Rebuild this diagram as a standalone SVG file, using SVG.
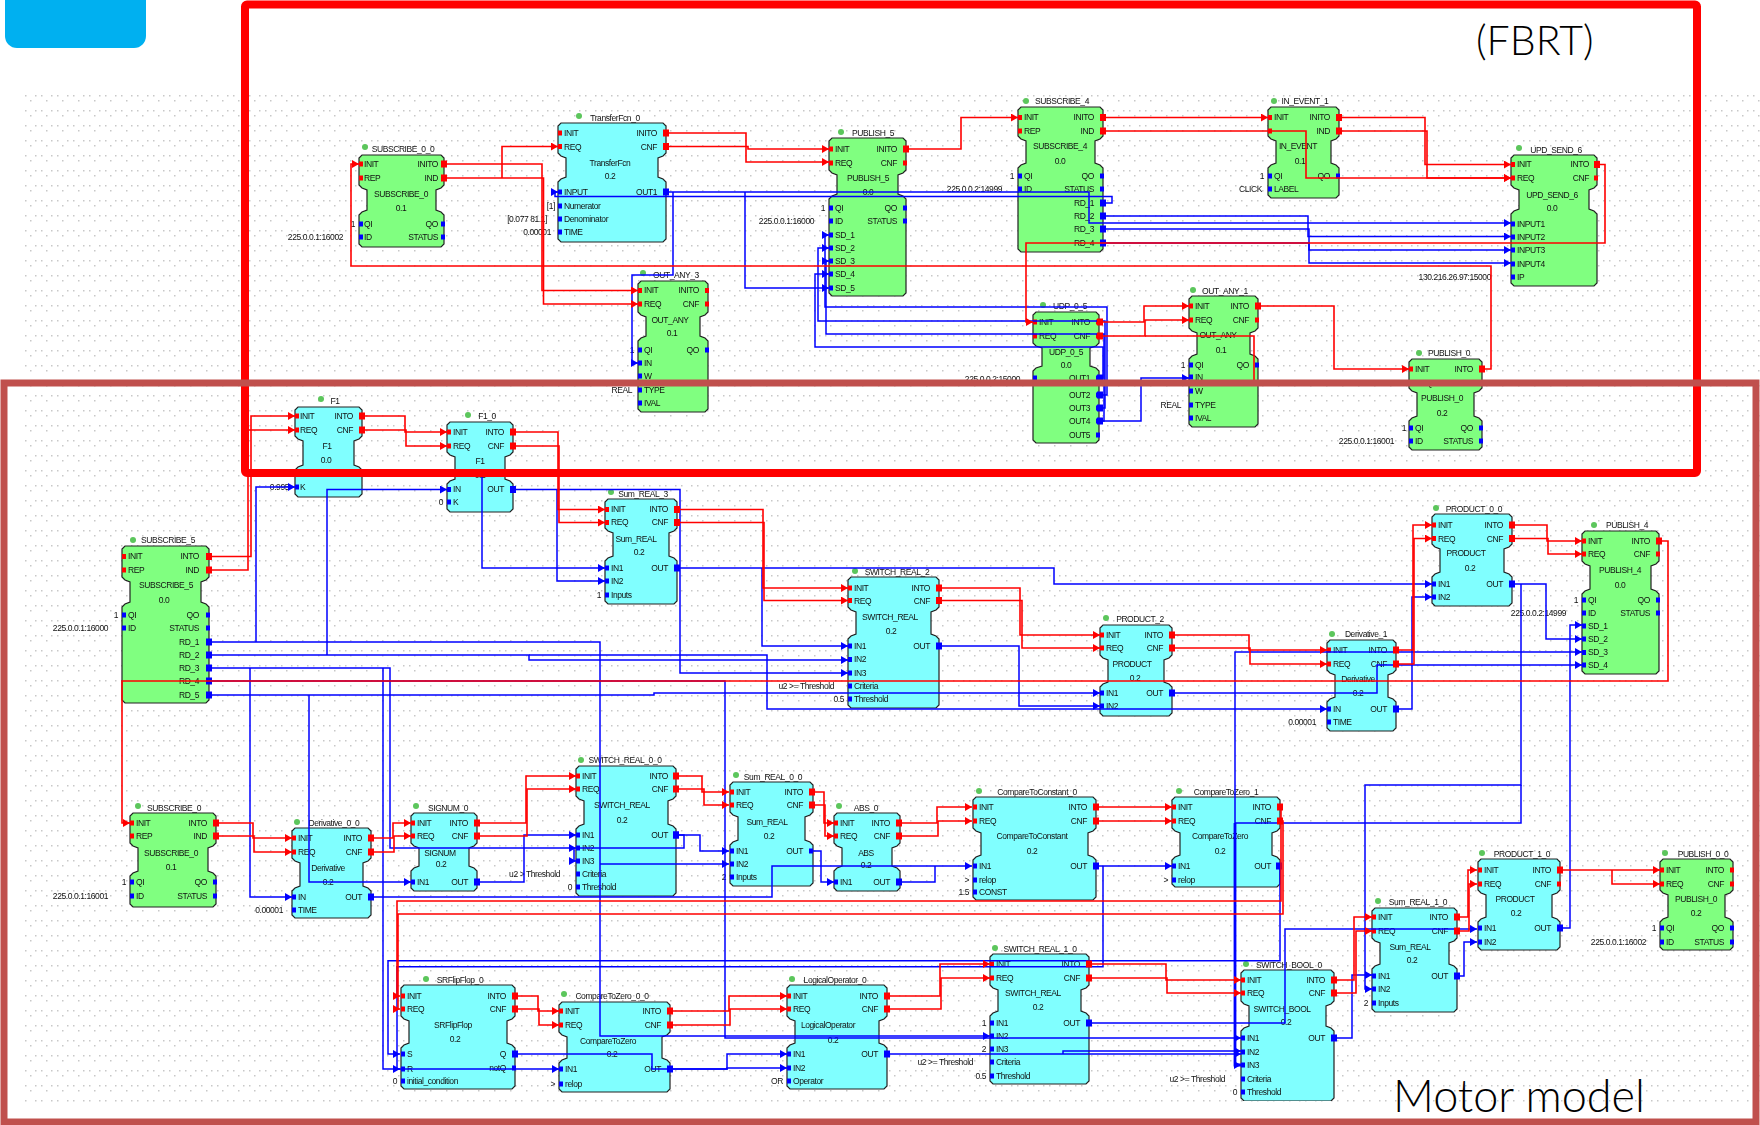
<svg xmlns="http://www.w3.org/2000/svg" width="1760" height="1125" viewBox="0 0 1760 1125">
<style>
text{font-family:"Liberation Sans",Arial,sans-serif;font-size:8.5px;letter-spacing:-.42px;fill:#111}
.m{text-anchor:middle}.e{text-anchor:end}
.g{fill:#80ff80;stroke:#222;stroke-width:1.2}
.c{fill:#80ffff;stroke:#222;stroke-width:1.2}
.d{fill:#5cc65c}
.pr{stroke:#f00;stroke-width:5;fill:none}
.pb{stroke:#00f;stroke-width:5;fill:none}
.r{stroke:#f00;stroke-width:1.6;fill:none;marker-start:url(#sr);marker-end:url(#ar)}
.b{stroke:#00f;stroke-width:1.5;fill:none;marker-start:url(#sb);marker-end:url(#ab)}
.ns{marker-start:none}.ne{marker-end:none}
.w{stroke-width:2.8}
.big{font-family:Lato,"Open Sans",sans-serif;letter-spacing:0;fill:#000}
</style>
<defs>
<filter id="soft" x="0" y="0" width="100%" height="100%"><feGaussianBlur stdDeviation="0.4"/></filter>
<pattern id="dots" width="16" height="15" patternUnits="userSpaceOnUse" x="25" y="95">
<rect x="0" y="0" width="1.5" height="1.5" fill="#c8c8c8"/><rect x="10" y="0" width="1.5" height="1.5" fill="#c8c8c8"/><rect x="5" y="5" width="1.5" height="1.5" fill="#c8c8c8"/>
</pattern>
<marker id="ar" markerUnits="userSpaceOnUse" markerWidth="8" markerHeight="8" refX="7" refY="4" orient="auto"><path d="M0 0L7 4L0 8z" fill="#f00"/></marker>
<marker id="ab" markerUnits="userSpaceOnUse" markerWidth="8" markerHeight="8" refX="7" refY="4" orient="auto"><path d="M0 0L7 4L0 8z" fill="#00f"/></marker>
<marker id="sr" markerUnits="userSpaceOnUse" markerWidth="8" markerHeight="8" refX="4" refY="4" orient="auto"><rect x="1" y="0.5" width="6" height="7" fill="#f00"/></marker>
<marker id="sb" markerUnits="userSpaceOnUse" markerWidth="8" markerHeight="8" refX="4" refY="4" orient="auto"><rect x="1" y="0.5" width="6" height="7" fill="#00f"/></marker>
</defs>
<rect x="25" y="95" width="1735" height="1010" fill="url(#dots)"/>

<g id="nodes" filter="url(#soft)">
<g id="SUBSCRIBE_0_0"><path class="g" d="M362 155H441l3 3V185l-3 3-5 2V210l5 2 3 3V244l-3 3H362l-3-3V215l3-3 5-2V190l-5-2-3-3V158z"/><circle class="d" cx="365" cy="147" r="3"/><text class="m" x="403" y="152">SUBSCRIBE_0_0</text><path class="pr" d="M359 164h4M359 178h4M441 164h4M441 178h4"/><path class="pb" d="M359 224h4M359 237h4M441 224h4M441 237h4"/><text x="364" y="167">INIT</text><text x="364" y="181">REP</text><text class="e" x="438" y="167">INITO</text><text class="e" x="438" y="181">IND</text><text class="m" x="401" y="197">SUBSCRIBE_0</text><text class="m" x="401" y="211">0.1</text><text x="364" y="227">QI</text><text x="364" y="240">ID</text><text class="e" x="438" y="227">QO</text><text class="e" x="438" y="240">STATUS</text><text class="e" x="355" y="227">1</text><text class="e" x="343" y="240">225.0.0.1:16002</text></g>

<g id="TransferFcn_0"><path class="c" d="M561 123H663l3 3V153l-3 3-5 2V177l5 2 3 3V239l-3 3H561l-3-3V182l3-3 5-2V158l-5-2-3-3V126z"/><circle class="d" cx="579" cy="116" r="3"/><text class="m" x="615" y="121">TransferFcn_0</text><path class="pr" d="M558 133h4M558 146.500h4M663 133h4M663 146.500h4"/><path class="pb" d="M558 192h4M558 206h4M558 219h4M558 232h4M663 192h4"/><text x="564" y="136">INIT</text><text x="564" y="150">REQ</text><text class="e" x="657" y="136">INITO</text><text class="e" x="657" y="150">CNF</text><text class="m" x="610" y="166">TransferFcn</text><text class="m" x="610" y="179">0.2</text><text x="564" y="195">INPUT</text><text class="e" x="657" y="195">OUT1</text><text x="564" y="209">Numerator</text><text x="564" y="222">Denominator</text><text x="564" y="235">TIME</text><text class="e" x="555" y="209">[1]</text><text class="e" x="547" y="222">[0.077 81.1]</text><text class="e" x="551" y="235">0.00001</text></g>

<g id="OUT_ANY_3"><path class="g" d="M641 281H705l3 3V312l-3 3-5 2V336l5 2 3 3V409l-3 3H641l-3-3V341l3-3 5-2V317l-5-2-3-3V284z"/><circle class="d" cx="643" cy="273" r="3"/><text class="m" x="676" y="278">OUT_ANY_3</text><path class="pr" d="M638 290.500h4M638 304h4M705 290.500h4M705 304h4"/><path class="pb" d="M638 350h4M638 363h4M638 376h4M638 390h4M638 403h4M705 350h4"/><text x="644" y="293">INIT</text><text x="644" y="307">REQ</text><text class="e" x="699" y="293">INITO</text><text class="e" x="699" y="307">CNF</text><text class="m" x="670" y="323">OUT_ANY</text><text class="m" x="672" y="336">0.1</text><text x="644" y="353">QI</text><text x="644" y="366">IN</text><text x="644" y="379">W</text><text x="644" y="393">TYPE</text><text x="644" y="406">IVAL</text><text class="e" x="699" y="353">QO</text><text class="e" x="634" y="353">1</text><text class="e" x="632" y="393">REAL</text></g>

<g id="PUBLISH_5"><path class="g" d="M832 138H903l3 3V170l-3 3-5 2V194l5 2 3 3V293l-3 3H832l-3-3V199l3-3 5-2V175l-5-2-3-3V141z"/><circle class="d" cx="841" cy="132" r="3"/><text class="m" x="873" y="136">PUBLISH_5</text><path class="pr" d="M829 149h4M829 163h4M903 149h4M903 163h4"/><path class="pb" d="M829 208h4M829 221h4M829 235h4M829 248h4M829 261h4M829 274h4M829 288h4M903 208h4M903 221h4"/><text x="835" y="152">INIT</text><text x="835" y="166">REQ</text><text class="e" x="897" y="152">INITO</text><text class="e" x="897" y="166">CNF</text><text class="m" x="868" y="181">PUBLISH_5</text><text class="m" x="868" y="195">0.0</text><text x="835" y="211">QI</text><text x="835" y="224">ID</text><text x="835" y="238">SD_1</text><text x="835" y="251">SD_2</text><text x="835" y="264">SD_3</text><text x="835" y="277">SD_4</text><text x="835" y="291">SD_5</text><text class="e" x="897" y="211">QO</text><text class="e" x="897" y="224">STATUS</text><text class="e" x="825" y="211">1</text><text class="e" x="814" y="224">225.0.0.1:16000</text></g>

<g id="SUBSCRIBE_4"><path class="g" d="M1021 107H1100l3 3V136l-3 3-5 2V163l5 2 3 3V249l-3 3H1021l-3-3V168l3-3 5-2V141l-5-2-3-3V110z"/><circle class="d" cx="1026" cy="101" r="3"/><text class="m" x="1062" y="104">SUBSCRIBE_4</text><path class="pr" d="M1018 117.500h4M1018 131h4M1100 117.500h4M1100 131h4"/><path class="pb" d="M1018 176h4M1018 189h4M1100 176h4M1100 189h4M1100 203h4M1100 216h4M1100 229h4M1100 243h4"/><text x="1024" y="120">INIT</text><text x="1024" y="134">REP</text><text class="e" x="1094" y="120">INITO</text><text class="e" x="1094" y="134">IND</text><text class="m" x="1060" y="149">SUBSCRIBE_4</text><text class="m" x="1060" y="164">0.0</text><text x="1024" y="179">QI</text><text x="1024" y="192">ID</text><text class="e" x="1094" y="179">QO</text><text class="e" x="1094" y="192">STATUS</text><text class="e" x="1094" y="206">RD_1</text><text class="e" x="1094" y="219">RD_2</text><text class="e" x="1094" y="232">RD_3</text><text class="e" x="1094" y="246">RD_4</text><text class="e" x="1014" y="179">1</text><text class="e" x="1002" y="192">225.0.0.2:14999</text></g>

<g id="IN_EVENT_1"><path class="g" d="M1271 107H1336l3 3V136l-3 3-5 2V163l5 2 3 3V195l-3 3H1271l-3-3V168l3-3 5-2V141l-5-2-3-3V110z"/><circle class="d" cx="1274" cy="101" r="3"/><text class="m" x="1305" y="104">IN_EVENT_1</text><path class="pr" d="M1268 117.500h4M1268 131h4M1336 117.500h4M1336 131h4"/><path class="pb" d="M1268 176h4M1268 189h4M1336 176h4"/><text x="1274" y="120">INIT</text><text class="e" x="1330" y="120">INITO</text><text class="e" x="1330" y="134">IND</text><text class="m" x="1298" y="149">IN_EVENT</text><text class="m" x="1300" y="164">0.1</text><text x="1274" y="179">QI</text><text x="1274" y="192">LABEL</text><text class="e" x="1330" y="179">QO</text><text class="e" x="1264" y="179">1</text><text class="e" x="1262" y="192">CLICK</text></g>

<g id="UPD_SEND_6"><path class="g" d="M1514 155H1594l3 3V185l-3 3-5 2V209l5 2 3 3V283l-3 3H1514l-3-3V214l3-3 5-2V190l-5-2-3-3V158z"/><circle class="d" cx="1519" cy="148" r="3"/><text class="m" x="1556" y="153">UPD_SEND_6</text><path class="pr" d="M1511 164.500h4M1511 178h4M1594 164.500h4M1594 178h4"/><path class="pb" d="M1511 224h4M1511 237h4M1511 250h4M1511 264h4M1511 277h4"/><text x="1517" y="167">INIT</text><text x="1517" y="181">REQ</text><text class="e" x="1589" y="167">INTO</text><text class="e" x="1589" y="181">CNF</text><text class="m" x="1552" y="198">UPD_SEND_6</text><text class="m" x="1552" y="211">0.0</text><text x="1517" y="227">INPUT1</text><text x="1517" y="240">INPUT2</text><text x="1517" y="253">INPUT3</text><text x="1517" y="267">INPUT4</text><text x="1517" y="280">IP</text><text class="e" x="1491" y="280">130.216.26.97:15000</text></g>

<g id="UDP_0_5"><path class="g" d="M1036 312H1096l3 3V343l-3 3-6 2V366l6 2 3 3V440l-3 3H1036l-3-3V371l3-3 6-2V348l-6-2-3-3V315z"/><circle class="d" cx="1043" cy="305" r="3"/><text class="m" x="1070" y="309">UDP_0_5</text><path class="pr" d="M1033 322h4M1033 336h4M1096 322h4M1096 336h4"/><path class="pb" d="M1033 378h4M1096 378h4M1096 395h4M1096 408h4M1096 421h4M1096 435h4"/><text x="1039" y="325">INIT</text><text x="1039" y="339">REQ</text><text class="e" x="1090" y="325">INTO</text><text class="e" x="1090" y="339">CNF</text><text class="m" x="1066" y="355">UDP_0_5</text><text class="m" x="1066" y="368">0.0</text><text class="e" x="1090" y="381">OUT1</text><text class="e" x="1090" y="398">OUT2</text><text class="e" x="1090" y="411">OUT3</text><text class="e" x="1090" y="424">OUT4</text><text class="e" x="1090" y="438">OUT5</text><text class="e" x="1020" y="382">225.0.0.2:15000</text></g>

<g id="OUT_ANY_1"><path class="g" d="M1192 296H1255l3 3V328l-3 3-5 2V354l5 2 3 3V424l-3 3H1192l-3-3V359l3-3 5-2V333l-5-2-3-3V299z"/><circle class="d" cx="1193" cy="290" r="3"/><text class="m" x="1225" y="294">OUT_ANY_1</text><path class="pr" d="M1189 306h4M1189 320h4M1255 306h4M1255 320h4"/><path class="pb" d="M1189 365h4M1189 377h4M1189 391h4M1189 405h4M1189 418h4M1255 365h4"/><text x="1195" y="309">INIT</text><text x="1195" y="323">REQ</text><text class="e" x="1249" y="309">INTO</text><text class="e" x="1249" y="323">CNF</text><text class="m" x="1218" y="338">OUT_ANY</text><text class="m" x="1221" y="353">0.1</text><text x="1195" y="368">QI</text><text x="1195" y="380">IN</text><text x="1195" y="394">W</text><text x="1195" y="408">TYPE</text><text x="1195" y="421">IVAL</text><text class="e" x="1249" y="368">QO</text><text class="e" x="1185" y="368">1</text><text class="e" x="1181" y="408">REAL</text></g>

<g id="PUBLISH_0"><path class="g" d="M1412 359H1479l3 3V388l-3 3-5 2V416l5 2 3 3V447l-3 3H1412l-3-3V421l3-3 5-2V393l-5-2-3-3V362z"/><circle class="d" cx="1419" cy="353" r="3"/><text class="m" x="1449" y="356">PUBLISH_0</text><path class="pr" d="M1409 369h4M1409 383h4M1479 369h4M1479 383h4"/><path class="pb" d="M1409 428h4M1409 441h4M1479 428h4M1479 441h4"/><text x="1415" y="372">INIT</text><text x="1415" y="386">REQ</text><text class="e" x="1473" y="372">INTO</text><text class="e" x="1473" y="386">CNF</text><text class="m" x="1442" y="401">PUBLISH_0</text><text class="m" x="1442" y="416">0.2</text><text x="1415" y="431">QI</text><text x="1415" y="444">ID</text><text class="e" x="1473" y="431">QO</text><text class="e" x="1473" y="444">STATUS</text><text class="e" x="1406" y="431">1</text><text class="e" x="1394" y="444">225.0.0.1:16001</text></g>

<g id="F1"><path class="c" d="M298 407H359l3 3V436l-3 3-5 2V465l5 2 3 3V494l-3 3H298l-3-3V470l3-3 5-2V441l-5-2-3-3V410z"/><circle class="d" cx="321" cy="399" r="3"/><text class="m" x="335" y="404">F1</text><path class="pr" d="M295 416h4M295 430h4M359 416h4M359 430h4"/><path class="pb" d="M295 487h4"/><text x="300" y="419">INIT</text><text x="300" y="433">REQ</text><text class="e" x="353" y="419">INTO</text><text class="e" x="353" y="433">CNF</text><text class="m" x="327" y="449">F1</text><text class="m" x="326" y="463">0.0</text><text x="300" y="490">K</text><text class="e" x="289" y="490">0.995</text></g>

<g id="F1_0"><path class="c" d="M450 422H510l3 3V452l-3 3-5 2V479l5 2 3 3V509l-3 3H450l-3-3V484l3-3 5-2V457l-5-2-3-3V425z"/><circle class="d" cx="468" cy="415" r="3"/><text class="m" x="487" y="419">F1_0</text><path class="pr" d="M447 432h4M447 446h4M510 432h4M510 446h4"/><path class="pb" d="M447 489.500h4M447 502h4M510 489.500h4"/><text x="453" y="435">INIT</text><text x="453" y="449">REQ</text><text class="e" x="504" y="435">INTO</text><text class="e" x="504" y="449">CNF</text><text class="m" x="480" y="464">F1</text><text class="m" x="480" y="478">0.2</text><text x="453" y="492">IN</text><text x="453" y="505">K</text><text class="e" x="504" y="492">OUT</text><text class="e" x="443" y="505">0</text></g>

<g id="Sum_REAL_3"><path class="c" d="M608 499H674l3 3V528l-3 3-5 2V556l5 2 3 3V601l-3 3H608l-3-3V561l3-3 5-2V533l-5-2-3-3V502z"/><circle class="d" cx="611" cy="492" r="3"/><text class="m" x="643" y="497">Sum_REAL_3</text><path class="pr" d="M605 509.500h4M605 522.500h4M674 509.500h4M674 522.500h4"/><path class="pb" d="M605 568h4M605 581h4M605 595h4M674 568h4"/><text x="611" y="512">INIT</text><text x="611" y="525">REQ</text><text class="e" x="668" y="512">INTO</text><text class="e" x="668" y="525">CNF</text><text class="m" x="636" y="542">Sum_REAL</text><text class="m" x="639" y="555">0.2</text><text x="611" y="571">IN1</text><text x="611" y="584">IN2</text><text x="611" y="598">Inputs</text><text class="e" x="668" y="571">OUT</text><text class="e" x="601" y="598">1</text></g>

<g id="SUBSCRIBE_5"><path class="g" d="M125 546H206l3 3V577l-3 3-5 2V602l5 2 3 3V700l-3 3H125l-3-3V607l3-3 5-2V582l-5-2-3-3V549z"/><circle class="d" cx="133" cy="540" r="3"/><text class="m" x="168" y="543">SUBSCRIBE_5</text><path class="pr" d="M122 556.500h4M122 570h4M206 556.500h4M206 570h4"/><path class="pb" d="M122 615h4M122 628h4M206 615h4M206 628h4M206 642h4M206 655h4M206 668h4M206 681h4M206 695h4"/><text x="128" y="559">INIT</text><text x="128" y="573">REP</text><text class="e" x="199" y="559">INTO</text><text class="e" x="199" y="573">IND</text><text class="m" x="166" y="588">SUBSCRIBE_5</text><text class="m" x="164" y="603">0.0</text><text x="128" y="618">QI</text><text x="128" y="631">ID</text><text class="e" x="199" y="618">QO</text><text class="e" x="199" y="631">STATUS</text><text class="e" x="199" y="645">RD_1</text><text class="e" x="199" y="658">RD_2</text><text class="e" x="199" y="671">RD_3</text><text class="e" x="199" y="684">RD_4</text><text class="e" x="199" y="698">RD_5</text><text class="e" x="118" y="618">1</text><text class="e" x="108" y="631">225.0.0.1:16000</text></g>

<g id="SWITCH_REAL_2"><path class="c" d="M851 577H936l3 3V607l-3 3-5 2V634l5 2 3 3V705l-3 3H851l-3-3V639l3-3 5-2V612l-5-2-3-3V580z"/><circle class="d" cx="855" cy="571" r="3"/><text class="m" x="897" y="575">SWITCH_REAL_2</text><path class="pr" d="M848 588h4M848 600.500h4M936 588h4M936 600.500h4"/><path class="pb" d="M848 646h4M848 659.500h4M848 673h4M848 686h4M848 699h4M936 646h4"/><text x="854" y="591">INIT</text><text x="854" y="604">REQ</text><text class="e" x="930" y="591">INTO</text><text class="e" x="930" y="604">CNF</text><text class="m" x="890" y="620">SWITCH_REAL</text><text class="m" x="891" y="634">0.2</text><text x="854" y="649">IN1</text><text x="854" y="662">IN2</text><text x="854" y="676">IN3</text><text x="854" y="689">Criteria</text><text x="854" y="702">Threshold</text><text class="e" x="930" y="649">OUT</text><text class="e" x="834" y="689">u2 &gt;= Threshold</text><text class="e" x="844" y="702">0.5</text></g>

<g id="PRODUCT_2"><path class="c" d="M1103 625H1169l3 3V655l-3 3-5 2V682l5 2 3 3V713l-3 3H1103l-3-3V687l3-3 5-2V660l-5-2-3-3V628z"/><circle class="d" cx="1106" cy="618" r="3"/><text class="m" x="1140" y="622">PRODUCT_2</text><path class="pr" d="M1100 635h4M1100 648h4M1169 635h4M1169 648h4"/><path class="pb" d="M1100 693h4M1100 706h4M1169 693h4"/><text x="1106" y="638">INIT</text><text x="1106" y="651">REQ</text><text class="e" x="1163" y="638">INTO</text><text class="e" x="1163" y="651">CNF</text><text class="m" x="1132" y="667">PRODUCT</text><text class="m" x="1135" y="681">0.2</text><text x="1106" y="696">IN1</text><text x="1106" y="709">IN2</text><text class="e" x="1163" y="696">OUT</text></g>

<g id="Derivative_1"><path class="c" d="M1330 640H1393l3 3V670l-3 3-5 2V697l5 2 3 3V728l-3 3H1330l-3-3V702l3-3 5-2V675l-5-2-3-3V643z"/><circle class="d" cx="1332" cy="634" r="3"/><text class="m" x="1366" y="637">Derivative_1</text><path class="pr" d="M1327 650h4M1327 664h4M1393 650h4M1393 664h4"/><path class="pb" d="M1327 709h4M1327 722h4M1393 709h4"/><text x="1333" y="653">INIT</text><text x="1333" y="667">REQ</text><text class="e" x="1387" y="653">INTO</text><text class="e" x="1387" y="667">CNF</text><text class="m" x="1358" y="682">Derivative</text><text class="m" x="1358" y="696">0.2</text><text x="1333" y="712">IN</text><text x="1333" y="725">TIME</text><text class="e" x="1387" y="712">OUT</text><text class="e" x="1316" y="725">0.00001</text></g>

<g id="PRODUCT_0_0"><path class="c" d="M1435 514H1509l3 3V544l-3 3-5 2V572l5 2 3 3V603l-3 3H1435l-3-3V577l3-3 5-2V549l-5-2-3-3V517z"/><circle class="d" cx="1436" cy="508" r="3"/><text class="m" x="1474" y="512">PRODUCT_0_0</text><path class="pr" d="M1432 525h4M1432 538.500h4M1509 525h4M1509 538.500h4"/><path class="pb" d="M1432 584h4M1432 597h4M1509 584h4"/><text x="1438" y="528">INIT</text><text x="1438" y="542">REQ</text><text class="e" x="1503" y="528">INTO</text><text class="e" x="1503" y="542">CNF</text><text class="m" x="1466" y="556">PRODUCT</text><text class="m" x="1470" y="571">0.2</text><text x="1438" y="587">IN1</text><text x="1438" y="600">IN2</text><text class="e" x="1503" y="587">OUT</text></g>

<g id="PUBLISH_4"><path class="g" d="M1585 531H1656l3 3V561l-3 3-5 2V589l5 2 3 3V671l-3 3H1585l-3-3V594l3-3 5-2V566l-5-2-3-3V534z"/><circle class="d" cx="1594" cy="525" r="3"/><text class="m" x="1627" y="528">PUBLISH_4</text><path class="pr" d="M1582 541h4M1582 554h4M1656 541h4M1656 554h4"/><path class="pb" d="M1582 600h4M1582 613h4M1582 626h4M1582 639h4M1582 652.500h4M1582 665h4M1656 600h4M1656 613h4"/><text x="1588" y="544">INIT</text><text x="1588" y="557">REQ</text><text class="e" x="1650" y="544">INTO</text><text class="e" x="1650" y="557">CNF</text><text class="m" x="1620" y="573">PUBLISH_4</text><text class="m" x="1620" y="588">0.0</text><text x="1588" y="603">QI</text><text x="1588" y="616">ID</text><text x="1588" y="629">SD_1</text><text x="1588" y="642">SD_2</text><text x="1588" y="655">SD_3</text><text x="1588" y="668">SD_4</text><text class="e" x="1650" y="603">QO</text><text class="e" x="1650" y="616">STATUS</text><text class="e" x="1578" y="603">1</text><text class="e" x="1566" y="616">225.0.0.2:14999</text></g>

<g id="SUBSCRIBE_0"><path class="g" d="M133 813H213l3 3V843l-3 3-5 2V871l5 2 3 3V904l-3 3H133l-3-3V876l3-3 5-2V848l-5-2-3-3V816z"/><circle class="d" cx="138" cy="806" r="3"/><text class="m" x="174" y="811">SUBSCRIBE_0</text><path class="pr" d="M130 823h4M130 836h4M213 823h4M213 836h4"/><path class="pb" d="M130 882h4M130 896h4M213 882h4M213 896h4"/><text x="136" y="826">INIT</text><text x="136" y="839">REP</text><text class="e" x="207" y="826">INTO</text><text class="e" x="207" y="839">IND</text><text class="m" x="171" y="856">SUBSCRIBE_0</text><text class="m" x="171" y="870">0.1</text><text x="136" y="885">QI</text><text x="136" y="899">ID</text><text class="e" x="207" y="885">QO</text><text class="e" x="207" y="899">STATUS</text><text class="e" x="126" y="885">1</text><text class="e" x="108" y="899">225.0.0.1:16001</text></g>

<g id="Derivative_0_0"><path class="c" d="M295 828H368l3 3V858l-3 3-5 2V886l5 2 3 3V915l-3 3H295l-3-3V891l3-3 5-2V863l-5-2-3-3V831z"/><circle class="d" cx="297" cy="822" r="3"/><text class="m" x="334" y="826">Derivative_0_0</text><path class="pr" d="M292 838h4M292 852h4M368 838h4M368 852h4"/><path class="pb" d="M292 897h4M292 910h4M368 897h4"/><text x="298" y="841">INIT</text><text x="298" y="855">REQ</text><text class="e" x="362" y="841">INTO</text><text class="e" x="362" y="855">CNF</text><text class="m" x="328" y="871">Derivative</text><text class="m" x="328" y="885">0.2</text><text x="298" y="900">IN</text><text x="298" y="913">TIME</text><text class="e" x="362" y="900">OUT</text><text class="e" x="283" y="913">0.00001</text></g>

<g id="SIGNUM_0"><path class="c" d="M414 813H474l3 3V843l-3 3-5 2V866l5 2 3 3V888l-3 3H414l-3-3V871l3-3 5-2V848l-5-2-3-3V816z"/><circle class="d" cx="416" cy="806" r="3"/><text class="m" x="448" y="811">SIGNUM_0</text><path class="pr" d="M411 823h4M411 836h4M474 823h4M474 836h4"/><path class="pb" d="M411 882h4M474 882h4"/><text x="417" y="826">INIT</text><text x="417" y="839">REQ</text><text class="e" x="468" y="826">INTO</text><text class="e" x="468" y="839">CNF</text><text class="m" x="440" y="856">SIGNUM</text><text class="m" x="441" y="867">0.2</text><text x="417" y="885">IN1</text><text class="e" x="468" y="885">OUT</text></g>

<g id="SWITCH_REAL_0_0"><path class="c" d="M579 766H673l3 3V796l-3 3-5 2V824l5 2 3 3V893l-3 3H579l-3-3V829l3-3 5-2V801l-5-2-3-3V769z"/><circle class="d" cx="581" cy="760" r="3"/><text class="m" x="625" y="763">SWITCH_REAL_0_0</text><path class="pr" d="M576 776h4M576 789h4M673 776h4M673 789h4"/><path class="pb" d="M576 835h4M576 848h4M576 861h4M576 874h4M576 887h4M673 835h4"/><text x="582" y="779">INIT</text><text x="582" y="792">REQ</text><text class="e" x="668" y="779">INTO</text><text class="e" x="668" y="792">CNF</text><text class="m" x="622" y="808">SWITCH_REAL</text><text class="m" x="622" y="823">0.2</text><text x="582" y="838">IN1</text><text x="582" y="851">IN2</text><text x="582" y="864">IN3</text><text x="582" y="877">Criteria</text><text x="582" y="890">Threshold</text><text class="e" x="668" y="838">OUT</text><text class="e" x="560" y="877">u2 &gt; Threshold</text><text class="e" x="572" y="890">0</text></g>

<g id="Sum_REAL_0_0"><path class="c" d="M733 782H810l3 3V812l-3 3-5 2V840l5 2 3 3V883l-3 3H733l-3-3V845l3-3 5-2V817l-5-2-3-3V785z"/><circle class="d" cx="736" cy="775" r="3"/><text class="m" x="773" y="780">Sum_REAL_0_0</text><path class="pr" d="M730 792h4M730 805h4M809 792h4M809 805h4"/><path class="pb" d="M730 851h4M730 864h4M730 877h4M809 851h4"/><text x="736" y="795">INIT</text><text x="736" y="808">REQ</text><text class="e" x="803" y="795">INTO</text><text class="e" x="803" y="808">CNF</text><text class="m" x="767" y="825">Sum_REAL</text><text class="m" x="769" y="839">0.2</text><text x="736" y="854">IN1</text><text x="736" y="867">IN2</text><text x="736" y="880">Inputs</text><text class="e" x="726" y="880">2</text><text class="e" x="803" y="854">OUT</text></g>

<g id="ABS_0"><path class="c" d="M837 813H897l3 3V843l-3 3-5 2V866l5 2 3 3V888l-3 3H837l-3-3V871l3-3 5-2V848l-5-2-3-3V816z"/><circle class="d" cx="839" cy="806" r="3"/><text class="m" x="866" y="811">ABS_0</text><path class="pr" d="M834 823h4M834 836h4M896 823h4M896 836h4"/><path class="pb" d="M834 882h4M896 882h4"/><text x="840" y="826">INIT</text><text x="840" y="839">REQ</text><text class="e" x="890" y="826">INTO</text><text class="e" x="890" y="839">CNF</text><text class="m" x="866" y="856">ABS</text><text class="m" x="866" y="868">0.2</text><text x="840" y="885">IN1</text><text class="e" x="890" y="885">OUT</text></g>

<g id="CompareToConstant_0"><path class="c" d="M976 797H1093l3 3V828l-3 3-5 2V855l5 2 3 3V897l-3 3H976l-3-3V860l3-3 5-2V833l-5-2-3-3V800z"/><circle class="d" cx="979" cy="791" r="3"/><text class="m" x="1037" y="795">CompareToConstant_0</text><path class="pr" d="M973 807h4M973 821h4M1093 807h4M1093 821h4"/><path class="pb" d="M973 866h4M973 880h4M973 892h4M1093 866h4"/><text x="979" y="810">INIT</text><text x="979" y="824">REQ</text><text class="e" x="1087" y="810">INTO</text><text class="e" x="1087" y="824">CNF</text><text class="m" x="1032" y="839">CompareToConstant</text><text class="m" x="1032" y="854">0.2</text><text x="979" y="869">IN1</text><text x="979" y="883">relop</text><text x="979" y="895">CONST</text><text class="e" x="1087" y="869">OUT</text><text class="e" x="969" y="883">&gt;</text><text class="e" x="969" y="895">1.5</text></g>

<g id="CompareToZero_1"><path class="c" d="M1175 797H1277l3 3V828l-3 3-5 2V855l5 2 3 3V884l-3 3H1175l-3-3V860l3-3 5-2V833l-5-2-3-3V800z"/><circle class="d" cx="1179" cy="791" r="3"/><text class="m" x="1226" y="795">CompareToZero_1</text><path class="pr" d="M1172 807h4M1172 821h4M1277 807h4M1277 821h4"/><path class="pb" d="M1172 866h4M1172 880h4M1277 866h4"/><text x="1178" y="810">INIT</text><text x="1178" y="824">REQ</text><text class="e" x="1271" y="810">INTO</text><text class="e" x="1271" y="824">CNF</text><text class="m" x="1220" y="839">CompareToZero</text><text class="m" x="1220" y="854">0.2</text><text x="1178" y="869">IN1</text><text x="1178" y="883">relop</text><text class="e" x="1271" y="869">OUT</text><text class="e" x="1168" y="883">&gt;</text></g>

<g id="SRFlipFlop_0"><path class="c" d="M404 985H512l3 3V1016l-3 3-5 2V1043l5 2 3 3V1086l-3 3H404l-3-3V1048l3-3 5-2V1021l-5-2-3-3V988z"/><circle class="d" cx="426" cy="979" r="3"/><text class="m" x="460" y="983">SRFlipFlop_0</text><path class="pr" d="M401 996h4M401 1009h4M512 996h4M512 1009h4"/><path class="pb" d="M401 1054h4M401 1069h4M401 1081h4M512 1054h4M512 1068h4"/><text x="407" y="999">INIT</text><text x="407" y="1012">REQ</text><text class="e" x="506" y="999">INTO</text><text class="e" x="506" y="1012">CNF</text><text class="m" x="453" y="1028">SRFlipFlop</text><text class="m" x="455" y="1042">0.2</text><text x="407" y="1057">S</text><text x="407" y="1072">R</text><text x="407" y="1084">initial_condition</text><text class="e" x="506" y="1057">Q</text><text class="e" x="506" y="1071">notQ</text><text class="e" x="397" y="1084">0</text></g>

<g id="CompareToZero_0_0"><path class="c" d="M562 1002H667l3 3V1032l-3 3-5 2V1058l5 2 3 3V1089l-3 3H562l-3-3V1063l3-3 5-2V1037l-5-2-3-3V1005z"/><circle class="d" cx="564" cy="994" r="3"/><text class="m" x="612" y="999">CompareToZero_0_0</text><path class="pr" d="M559 1011h4M559 1025h4M667 1011h4M667 1025h4"/><path class="pb" d="M559 1069h4M559 1084h4M667 1069h4"/><text x="565" y="1014">INIT</text><text x="565" y="1028">REQ</text><text class="e" x="661" y="1014">INTO</text><text class="e" x="661" y="1028">CNF</text><text class="m" x="608" y="1044">CompareToZero</text><text class="m" x="612" y="1057">0.2</text><text x="565" y="1072">IN1</text><text x="565" y="1087">relop</text><text class="e" x="661" y="1072">OUT</text><text class="e" x="555" y="1087">&gt;</text></g>

<g id="LogicalOperator_0"><path class="c" d="M790 985H884l3 3V1016l-3 3-5 2V1043l5 2 3 3V1086l-3 3H790l-3-3V1048l3-3 5-2V1021l-5-2-3-3V988z"/><circle class="d" cx="792" cy="979" r="3"/><text class="m" x="835" y="983">LogicalOperator_0</text><path class="pr" d="M787 996h4M787 1009h4M884 996h4M884 1009h4"/><path class="pb" d="M787 1054h4M787 1068h4M787 1081h4M884 1054h4"/><text x="793" y="999">INIT</text><text x="793" y="1012">REQ</text><text class="e" x="878" y="999">INTO</text><text class="e" x="878" y="1012">CNF</text><text class="m" x="828" y="1028">LogicalOperator</text><text class="m" x="833" y="1043">0.2</text><text x="793" y="1057">IN1</text><text x="793" y="1071">IN2</text><text x="793" y="1084">Operator</text><text class="e" x="878" y="1057">OUT</text><text class="e" x="783" y="1084">OR</text></g>

<g id="SWITCH_REAL_1_0"><path class="c" d="M993 954H1086l3 3V985l-3 3-5 2V1011l5 2 3 3V1081l-3 3H993l-3-3V1016l3-3 5-2V990l-5-2-3-3V957z"/><circle class="d" cx="995" cy="948" r="3"/><text class="m" x="1040" y="952">SWITCH_REAL_1_0</text><path class="pr" d="M990 964h4M990 978h4M1086 964h4M1086 978h4"/><path class="pb" d="M990 1023h4M990 1036h4M990 1049h4M990 1062h4M990 1076h4M1086 1023h4"/><text x="996" y="967">INIT</text><text x="996" y="981">REQ</text><text class="e" x="1080" y="967">INTO</text><text class="e" x="1080" y="981">CNF</text><text class="m" x="1033" y="996">SWITCH_REAL</text><text class="m" x="1038" y="1010">0.2</text><text x="996" y="1026">IN1</text><text x="996" y="1039">IN2</text><text x="996" y="1052">IN3</text><text x="996" y="1065">Criteria</text><text x="996" y="1079">Threshold</text><text class="e" x="1080" y="1026">OUT</text><text class="e" x="986" y="1026">1</text><text class="e" x="986" y="1052">2</text><text class="e" x="973" y="1065">u2 &gt;= Threshold</text><text class="e" x="986" y="1079">0.5</text></g>

<g id="SWITCH_BOOL_0"><path class="c" d="M1244 970H1331l3 3V1001l-3 3-5 2V1026l5 2 3 3V1098l-3 3H1244l-3-3V1031l3-3 5-2V1006l-5-2-3-3V973z"/><circle class="d" cx="1246" cy="964" r="3"/><text class="m" x="1289" y="968">SWITCH_BOOL_0</text><path class="pr" d="M1241 980h4M1241 993h4M1331 980h4M1331 993h4"/><path class="pb" d="M1241 1038h4M1241 1052h4M1241 1065h4M1241 1079h4M1241 1092h4M1331 1038h4"/><text x="1247" y="983">INIT</text><text x="1247" y="996">REQ</text><text class="e" x="1325" y="983">INTO</text><text class="e" x="1325" y="996">CNF</text><text class="m" x="1282" y="1012">SWITCH_BOOL</text><text class="m" x="1286" y="1025">0.2</text><text x="1247" y="1041">IN1</text><text x="1247" y="1055">IN2</text><text x="1247" y="1068">IN3</text><text x="1247" y="1082">Criteria</text><text x="1247" y="1095">Threshold</text><text class="e" x="1325" y="1041">OUT</text><text class="e" x="1225" y="1082">u2 &gt;= Threshold</text><text class="e" x="1237" y="1095">0</text></g>

<g id="Sum_REAL_1_0"><path class="c" d="M1375 908H1454l3 3V938l-3 3-5 2V964l5 2 3 3V1009l-3 3H1375l-3-3V969l3-3 5-2V943l-5-2-3-3V911z"/><circle class="d" cx="1378" cy="901" r="3"/><text class="m" x="1418" y="905">Sum_REAL_1_0</text><path class="pr" d="M1372 917h4M1372 931h4M1454 917h4M1454 931h4"/><path class="pb" d="M1372 976h4M1372 989h4M1372 1003h4M1454 976h4"/><text x="1378" y="920">INIT</text><text x="1378" y="934">REQ</text><text class="e" x="1448" y="920">INTO</text><text class="e" x="1448" y="934">CNF</text><text class="m" x="1410" y="950">Sum_REAL</text><text class="m" x="1412" y="963">0.2</text><text x="1378" y="979">IN1</text><text x="1378" y="992">IN2</text><text x="1378" y="1006">Inputs</text><text class="e" x="1448" y="979">OUT</text><text class="e" x="1368" y="1006">2</text></g>

<g id="PRODUCT_1_0"><path class="c" d="M1481 859H1557l3 3V890l-3 3-5 2V917l5 2 3 3V947l-3 3H1481l-3-3V922l3-3 5-2V895l-5-2-3-3V862z"/><circle class="d" cx="1482" cy="853" r="3"/><text class="m" x="1522" y="857">PRODUCT_1_0</text><path class="pr" d="M1478 870h4M1478 884h4M1557 870h4M1557 884h4"/><path class="pb" d="M1478 928h4M1478 942h4M1557 928h4"/><text x="1484" y="873">INIT</text><text x="1484" y="887">REQ</text><text class="e" x="1551" y="873">INTO</text><text class="e" x="1551" y="887">CNF</text><text class="m" x="1515" y="902">PRODUCT</text><text class="m" x="1516" y="916">0.2</text><text x="1484" y="931">IN1</text><text x="1484" y="945">IN2</text><text class="e" x="1551" y="931">OUT</text></g>

<g id="PUBLISH_0_0"><path class="g" d="M1663 859H1730l3 3V890l-3 3-5 2V917l5 2 3 3V947l-3 3H1663l-3-3V922l3-3 5-2V895l-5-2-3-3V862z"/><circle class="d" cx="1665" cy="853" r="3"/><text class="m" x="1703" y="857">PUBLISH_0_0</text><path class="pr" d="M1660 870h4M1660 884h4M1730 870h4M1730 884h4"/><path class="pb" d="M1660 928h4M1660 942h4M1730 928h4M1730 942h4"/><text x="1666" y="873">INIT</text><text x="1666" y="887">REQ</text><text class="e" x="1724" y="873">INTO</text><text class="e" x="1724" y="887">CNF</text><text class="m" x="1696" y="902">PUBLISH_0</text><text class="m" x="1696" y="916">0.2</text><text x="1666" y="931">QI</text><text x="1666" y="945">ID</text><text class="e" x="1724" y="931">QO</text><text class="e" x="1724" y="945">STATUS</text><text class="e" x="1656" y="931">1</text><text class="e" x="1646" y="945">225.0.0.1:16002</text></g>
</g>

<g id="connectors">
<path class="b" d="M666 192H1089V223H1511"/>
<path class="b ns" d="M673 192V275H632V363H638"/>
<path class="b ns" d="M745 192V288H829"/>
<path class="b" d="M1103 203H1112V196.500H555V192H558"/>
<path class="b" d="M1103 216H1308V236.500H1511"/>
<path class="b" d="M1103 229H1309V263H1511"/>
<path class="b" d="M1103 243H1309V250H1511"/>
<path class="b" d="M1100 395H1107V307H825V235H829"/>
<path class="b" d="M1100 408H1105V321H818V248H829"/>
<path class="b" d="M1100 421H1104V334H826V261H829"/>
<path class="b" d="M1100 378H1103V347H815V274H829"/>
<path class="b ns" d="M1100 421H1141V378H1189"/>
<path class="b" d="M513 489.500H680V673H848"/>
<path class="b ns" d="M557 489.500V581H605"/>
<path class="b" d="M209 655H529V660H848"/>
<path class="b ns" d="M327 655V489.500H447"/>
<path class="b ns" d="M529 655H767V709H1327"/>
<path class="b" d="M209 642H600V1036H990"/>
<path class="b ns" d="M256 642V487H295"/>
<path class="b ns" d="M600 864H729"/>
<path class="b ns" d="M482 476V568H605"/>
<path class="b" d="M677 568H1054V584H1432"/>
<path class="b ns" d="M762 568V646H848"/>
<path class="b" d="M209 668H390V848H576"/>
<path class="b ns" d="M383 668V1069H559"/>
<path class="b ns" d="M250 668V897H292"/>
<path class="b" d="M209 695H654V693H1100"/>
<path class="b ns" d="M309 695V882H411"/>
<path class="b" d="M209 681H725V1038H1241"/>
<path class="b ne" d="M676 835H684V848H576"/>
<path class="b ns" d="M574 848V861H576"/>
<path class="b" d="M676 835H700V851H729"/>
<path class="b" d="M477 882H524V835H576"/>
<path class="b" d="M371 897H772V866H972"/>
<path class="b ne" d="M899 882H935V866"/>
<path class="b ns" d="M812 851H821V882H834"/>
<path class="b" d="M1096 866H1172"/>
<path class="b ns" d="M1103 866V966.700H397V1069H400"/>
<path class="b" d="M1279 866H1280V960.700H388V1054H400"/>
<path class="b" d="M515 1054H652V1069H727V1068H787"/>
<path class="b" d="M670 1069H727V1054H787"/>
<path class="b" d="M887 1054H1241"/>
<path class="b ns" d="M1063 1054V1051H1241"/>
<path class="b" d="M1089 1023H1285V929H1477"/>
<path class="b" d="M1334 1038H1352V975H1372"/>
<path class="b" d="M1560 928H1570V625H1582"/>
<path class="b" d="M1457 976H1464V942H1477"/>
<path class="b" d="M1512 584H1546V639H1582"/>
<path class="b ns" d="M1521 584V785H1365V989H1372"/>
<path class="b ns ne" d="M1521 785V823H1235"/>
<path class="b" d="M1396 709H1412V597H1432"/>
<path class="b" d="M1172 693H1377V665H1582"/>
<path class="b" d="M939 646H1019V706H1100"/>
<path class="b ns" d="M1235 823V652H1582"/>
<path class="b ns w" d="M1235 823V1065H1241"/>
<path class="r" d="M444 164H542V290.500H638"/>
<path class="r" d="M444 178H543.500V304H638"/>
<path class="r ns" d="M502 178V146.500H558"/>
<path class="r" d="M666 133H746V162H829"/>
<path class="r" d="M666 146.500H748V149H829"/>
<path class="r" d="M906 149H961V117.500H1018"/>
<path class="r" d="M1103 117.500H1268"/>
<path class="r" d="M1103 131H1306V178H1511"/>
<path class="r" d="M1339 117.500H1425V164.500H1511"/>
<path class="r" d="M1339 131H1427V178H1511"/>
<path class="r" d="M1597 164.500H1605V243H1026V322H1033"/>
<path class="r" d="M1482 369H1491V266H351V164H359"/>
<path class="r" d="M1100 322H1144V306H1189"/>
<path class="r" d="M1100 336H1145V320H1189"/>
<path class="r ns ne" d="M1145 336H1254V382"/>
<path class="r" d="M1258 306H1334V369H1409"/>
<path class="r" d="M209 556.500H251V416H295"/>
<path class="r" d="M209 570H248V430H295"/>
<path class="r" d="M362 416H405V432H447"/>
<path class="r" d="M362 430H406V446H447"/>
<path class="r" d="M513 432H558V509.500H605"/>
<path class="r" d="M513 446H559V522.500H605"/>
<path class="r" d="M677 509.500H763V588H848"/>
<path class="r" d="M677 522.500H764V600.500H848"/>
<path class="r" d="M939 588H1020V635H1100"/>
<path class="r" d="M939 600.500H1022V648H1100"/>
<path class="r" d="M1172 635H1249V650H1327"/>
<path class="r" d="M1172 648H1250V664H1327"/>
<path class="r" d="M1396 650H1413V525H1432"/>
<path class="r" d="M1396 664H1414V538.500H1432"/>
<path class="r" d="M1512 525H1547V541H1582"/>
<path class="r" d="M1512 538.500H1548V554H1582"/>
<path class="r" d="M1659 541H1668V681H122V823H130"/>
<path class="r" d="M216 823H253V838H292"/>
<path class="r" d="M216 836H254V852H292"/>
<path class="r" d="M371 838H393V823H411"/>
<path class="r" d="M371 852H394V836H411"/>
<path class="r" d="M477 823H526V776H576"/>
<path class="r" d="M477 836H527V789H576"/>
<path class="r" d="M676 776H702V792H729"/>
<path class="r" d="M676 789H704V805H729"/>
<path class="r" d="M812 792H824V823H834"/>
<path class="r" d="M812 805H825V836H834"/>
<path class="r" d="M899 823H937V807H972"/>
<path class="r" d="M899 836H938V821H972"/>
<path class="r" d="M1096 807H1172"/>
<path class="r" d="M1096 821H1172"/>
<path class="r" d="M1280 807H1281V901H397V996H400"/>
<path class="r" d="M1280 821H1283V914H398V1009H400"/>
<path class="r" d="M515 996H538V1011H559"/>
<path class="r" d="M515 1009H539V1025H559"/>
<path class="r" d="M670 1011H729V996H787"/>
<path class="r" d="M670 1025H730V1009H787"/>
<path class="r" d="M887 996H940V964H990"/>
<path class="r" d="M887 1009H941V978H990"/>
<path class="r" d="M1089 964H1166V980H1241"/>
<path class="r" d="M1089 978H1167V993H1241"/>
<path class="r" d="M1334 980H1354V917H1372"/>
<path class="r" d="M1334 993H1356V931H1372"/>
<path class="r" d="M1457 917H1468V870H1477"/>
<path class="r" d="M1457 931H1469V884H1477"/>
<path class="r" d="M1560 870H1660"/>
<path class="r ns" d="M1612 870V884H1660"/>
</g>

<g id="frames">
<rect x="245" y="4.500" width="1452" height="468.500" rx="2" fill="none" stroke="#f00" stroke-width="8" stroke-linejoin="round"/>
<rect x="4" y="383" width="1752" height="739" fill="none" stroke="#c0504d" stroke-width="7"/>
<path d="M5 0H146V36a12 12 0 0 1-12 12H17a12 12 0 0 1-12-12z" fill="#00b0f0"/>
<text class="big" x="1476" y="55" style="font-size:41px;font-weight:300">(FBRT)</text>
<text class="big" x="1393" y="1112" style="font-size:45px;font-weight:300">Motor model</text>
</g>
</svg>
